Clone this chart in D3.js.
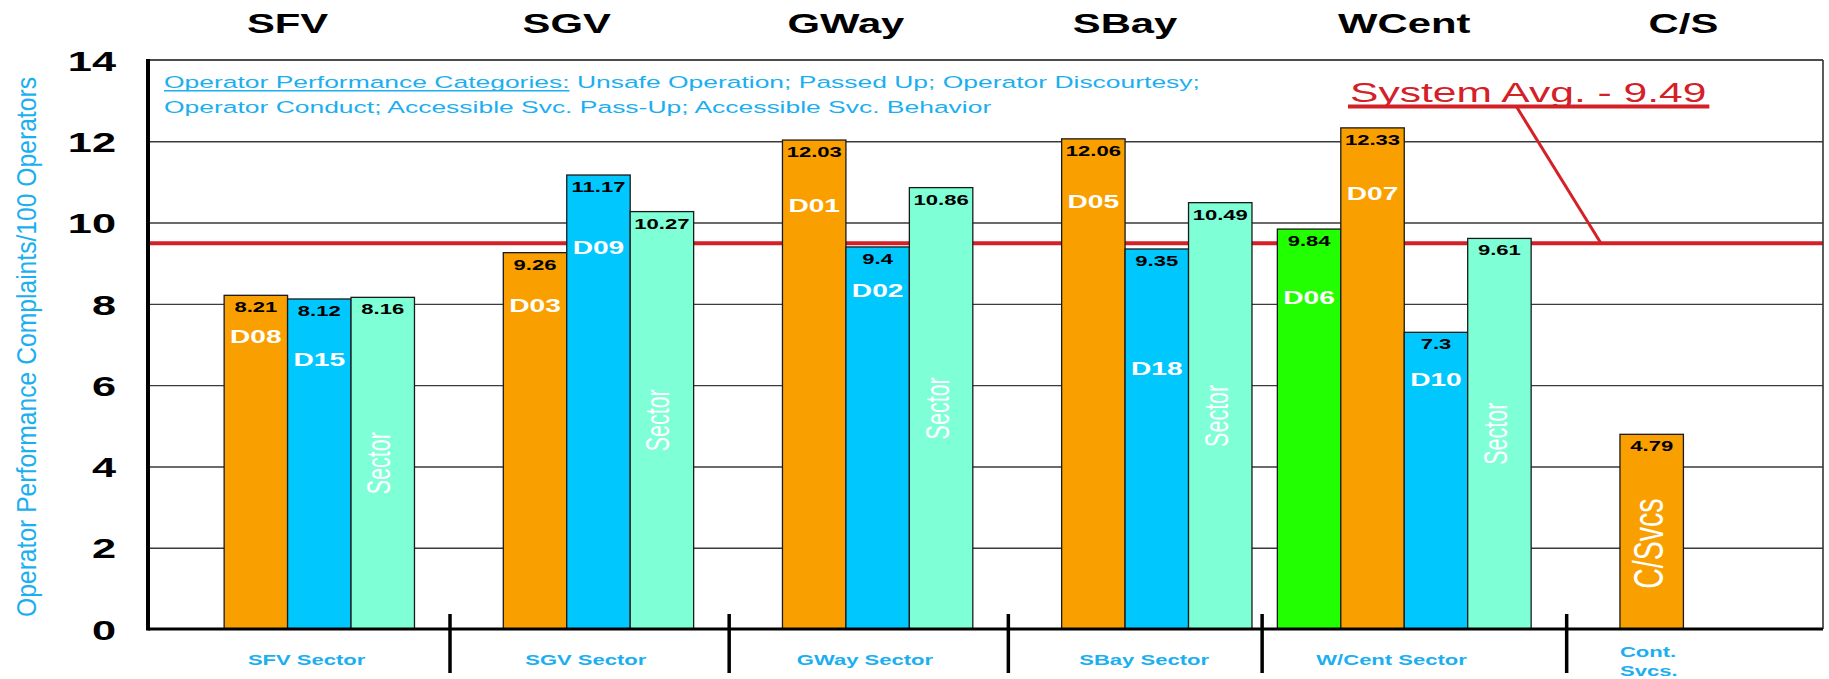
<!DOCTYPE html>
<html>
<head>
<meta charset="utf-8">
<script src="https://cdn.jsdelivr.net/npm/d3@7"></script>
<style>
  html, body { margin: 0; padding: 0; background: #fff; }
  svg { display: block; font-family: "Liberation Sans", Arial, Helvetica, sans-serif; }
</style>
</head>
<body>
<svg id="chart" width="1829" height="679"></svg>
<script>
// ---- data -------------------------------------------------------------
const categories   = ["SFV", "SGV", "GWay", "SBay", "WCent", "C/S"];
const sectorLabels = ["SFV  Sector", "SGV Sector", "GWay Sector", "SBay Sector", "W/Cent Sector", "Cont.|Svcs."];
const seriesKeys   = ["green", "orange", "blue", "sector"];

const greenValues  = [null, null, null, null, 9.84, null];
const orangeValues = [8.21, 9.26, 12.03, 12.06, 12.33, 4.79];
const blueValues   = [8.12, 11.17, 9.4, 9.35, 7.3, null];
const sectorValues = [8.16, 10.27, 10.86, 10.49, 9.61, null];

const greenNames   = [null, null, null, null, "D06", null];
const orangeNames  = ["D08", "D03", "D01", "D05", "D07", "C/Svcs"];
const blueNames    = ["D15", "D09", "D02", "D18", "D10", null];
const sectorNames  = ["Sector", "Sector", "Sector", "Sector", "Sector", null];

// complaint level at which each district name sits inside its bar
const greenNameLevels  = [null, null, null, null, 8.17, null];
const orangeNameLevels = [7.2, 7.97, 10.43, 10.53, 10.72, 2.1];
const blueNameLevels   = [6.63, 9.4, 8.34, 6.41, 6.14, null];

const yTicks    = [0, 2, 4, 6, 8, 10, 12, 14];
const systemAvg = 9.49;
const noteTitle = "Operator Performance Categories:";
const noteLine1 = " Unsafe Operation; Passed Up; Operator Discourtesy;";
const noteLine2 = "Operator Conduct; Accessible Svc. Pass-Up; Accessible Svc. Behavior";
const yTitle    = "Operator Performance Complaints/100 Operators";
const verticalNames = ["Sector", "C/Svcs"];

// ---- layout & style ---------------------------------------------------
const SX = 1.52;                       // horizontal stretch of lettering
const plot = { left: 148, right: 1823, top: 60, bottom: 629 };
const colors = { green: "#22FF00", orange: "#F9A000", blue: "#00C8FF", sector: "#7FFFD6" };
const RED = "#D42027";
const SKY = "#1CAFEF";

const svg = d3.select("#chart");

const x0 = d3.scaleBand().domain(categories).range([plot.left, plot.right]).paddingInner(0).paddingOuter(0);
const x1 = d3.scaleBand().domain(seriesKeys).range([0, x0.bandwidth()]).paddingInner(0).paddingOuter(0.2);
const y  = d3.scaleLinear().domain([0, 14]).range([plot.bottom, plot.top]);

const valueSets = { green: greenValues, orange: orangeValues, blue: blueValues, sector: sectorValues };
const nameSets  = { green: greenNames, orange: orangeNames, blue: blueNames, sector: sectorNames };
const levelSets = {
  green: greenNameLevels, orange: orangeNameLevels, blue: blueNameLevels,
  sector: sectorValues.map(v => v == null ? null : v / 2)
};

const rows = [];
categories.forEach((c, i) => seriesKeys.forEach(s => {
  const v = valueSets[s][i];
  if (v != null) rows.push({ cat: c, idx: i, key: s, value: v, name: nameSets[s][i], level: levelSets[s][i] });
}));

function stretched(parent, x, yy, str) {
  return parent.append("text")
    .attr("transform", `translate(${x},${yy}) scale(${SX},1)`)
    .text(str);
}

// ---- gridlines --------------------------------------------------------
svg.append("g")
  .attr("transform", `translate(${plot.left},0)`)
  .call(d3.axisLeft(y).tickValues(yTicks.filter(t => t > 0 && t < 14))
    .tickSize(-(plot.right - plot.left)).tickFormat(""))
  .call(g => g.select(".domain").remove())
  .call(g => g.selectAll("line").attr("stroke", "#3a3a3a").attr("stroke-width", 1.4));

// system average line (behind the bars)
svg.append("line")
  .attr("x1", plot.left).attr("x2", plot.right)
  .attr("y1", y(systemAvg)).attr("y2", y(systemAvg))
  .attr("stroke", RED).attr("stroke-width", 4);

// ---- bars -------------------------------------------------------------
const barX = d => x0(d.cat) + x1(d.key);
const bw = x1.bandwidth();

svg.append("g").selectAll("rect").data(rows).join("rect")
  .attr("x", barX)
  .attr("y", d => y(d.value))
  .attr("width", bw)
  .attr("height", d => y(0) - y(d.value))
  .attr("fill", d => colors[d.key])
  .attr("stroke", "#1a1a1a")
  .attr("stroke-width", 1.3);

// value labels
const valG = svg.append("g").attr("font-weight", "bold").attr("font-size", 14.5)
  .attr("text-anchor", "middle").attr("fill", "#000");
rows.forEach(d => stretched(valG, barX(d) + bw / 2, y(d.value) + 17, String(d.value)));

// district names
const nameG = svg.append("g").attr("fill", "#fff").attr("text-anchor", "middle");
rows.filter(d => d.name).forEach(d => {
  const cx = barX(d) + bw / 2;
  if (verticalNames.includes(d.name)) {
    nameG.append("text")
      .attr("transform", `translate(${cx - 3},${y(d.level)}) scale(${SX},1) rotate(-90)`)
      .attr("dy", "0.32em")
      .attr("font-size", d.name === "C/Svcs" ? 28.5 : 21.5)
      .text(d.name);
  } else {
    stretched(nameG, cx, y(d.level), d.name)
      .attr("dy", "0.36em")
      .attr("font-size", 18.5)
      .attr("font-weight", "bold");
  }
});

// ---- frame and axes ---------------------------------------------------
svg.append("line").attr("x1", plot.left).attr("x2", plot.right)
  .attr("y1", plot.top).attr("y2", plot.top)
  .attr("stroke", "#111").attr("stroke-width", 1.6);
svg.append("line").attr("x1", plot.right).attr("x2", plot.right)
  .attr("y1", plot.top).attr("y2", plot.bottom)
  .attr("stroke", "#333").attr("stroke-width", 1.6);
svg.append("line").attr("x1", plot.left).attr("x2", plot.right)
  .attr("y1", y(0)).attr("y2", y(0))
  .attr("stroke", "#000").attr("stroke-width", 3);
svg.append("line").attr("x1", plot.left).attr("x2", plot.left)
  .attr("y1", plot.top - 1).attr("y2", y(0) + 1.5)
  .attr("stroke", "#000").attr("stroke-width", 4);

// y tick labels
svg.append("g")
  .attr("transform", `translate(${plot.left},0)`)
  .call(d3.axisLeft(y).tickValues(yTicks).tickSize(0).tickPadding(0).tickFormat(d3.format("d")))
  .call(g => g.select(".domain").remove())
  .call(g => g.selectAll("text")
    .attr("x", -32 / SX)
    .attr("dy", "0.36em")
    .attr("transform", `scale(${SX},1)`)
    .attr("font-family", "\"Liberation Sans\", Arial, sans-serif")
    .attr("font-size", 28.5)
    .attr("font-weight", "bold")
    .attr("fill", "#000"));

// y-axis title
svg.append("text")
  .attr("transform", `translate(36,347) scale(1,0.897) rotate(-90)`)
  .attr("text-anchor", "middle")
  .attr("font-size", 27.5)
  .attr("fill", SKY)
  .text(yTitle);

// ---- sector headings across the top ---------------------------------
const topG = svg.append("g").attr("font-weight", "bold").attr("font-size", 27.5)
  .attr("text-anchor", "middle").attr("fill", "#000");
categories.forEach(c => stretched(topG, x0(c) + x0.bandwidth() / 2, 33, c));

// ---- sector dividers and labels below the axis -----------------------
const extents = categories.map(c => {
  const rs = rows.filter(d => d.cat === c);
  return { min: d3.min(rs, barX), max: d3.max(rs, d => barX(d) + bw) };
});

const divG = svg.append("g").attr("stroke", "#000").attr("stroke-width", 3.5);
for (let i = 0; i < extents.length - 1; i++) {
  const xd = extents[i].max + 0.4 * (extents[i + 1].min - extents[i].max);
  divG.append("line").attr("x1", xd).attr("x2", xd).attr("y1", 614).attr("y2", 673);
}

const botG = svg.append("g").attr("font-weight", "bold").attr("font-size", 14.5)
  .attr("fill", SKY).style("white-space", "pre");
sectorLabels.forEach((lab, i) => {
  const parts = lab.split("|");
  if (parts.length > 1) {
    parts.forEach((p, k) => stretched(botG, extents[i].min, 656.5 + k * 19.5, p).attr("text-anchor", "start"));
  } else {
    const cx = (extents[i].min + extents[i].max) / 2 - 0.2 * bw;
    stretched(botG, cx, 665, lab).attr("text-anchor", "middle");
  }
});

// ---- category note inside the plot ------------------------------------
const noteX = 164;
const note1 = stretched(svg, noteX, 88.3, "").attr("font-size", 17.4).attr("fill", SKY);
const titleSpan = note1.append("tspan").text(noteTitle);
note1.append("tspan").style("white-space", "pre").text(noteLine1);
stretched(svg, noteX, 113.3, noteLine2).attr("font-size", 17.4).attr("fill", SKY);
const titleLen = titleSpan.node().getComputedTextLength() * SX;
svg.append("line").attr("x1", noteX).attr("x2", noteX + titleLen)
  .attr("y1", 90.8).attr("y2", 90.8).attr("stroke", SKY).attr("stroke-width", 1.6);

// ---- system average callout ------------------------------------------
const avgX = 1350;
const avgText = stretched(svg, avgX, 102, `System Avg. - ${systemAvg}`)
  .attr("font-size", 28).attr("fill", RED);
const avgLen = avgText.node().getComputedTextLength() * SX;
const ux0 = avgX - 2, ux1 = avgX + avgLen + 3, uy = 106.5;
svg.append("line").attr("x1", ux0).attr("x2", ux1).attr("y1", uy).attr("y2", uy)
  .attr("stroke", RED).attr("stroke-width", 4);
svg.append("line")
  .attr("x1", ux0 + 0.466 * (ux1 - ux0)).attr("y1", uy)
  .attr("x2", ux0 + 0.70 * (ux1 - ux0)).attr("y2", y(systemAvg))
  .attr("stroke", RED).attr("stroke-width", 3);
</script>
</body>
</html>
